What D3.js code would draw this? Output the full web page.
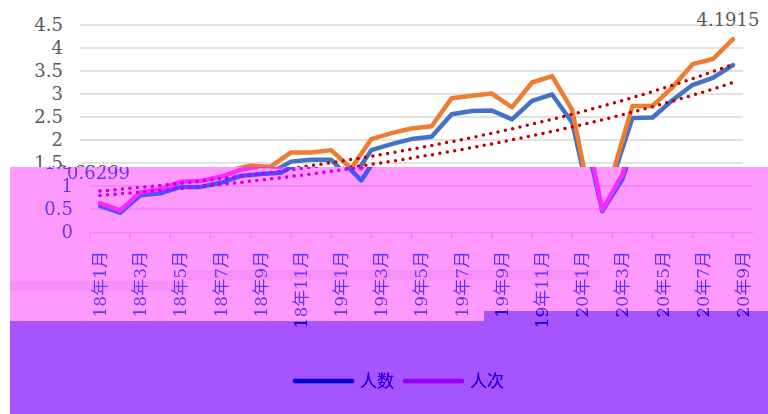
<!DOCTYPE html>
<html>
<head>
  <meta charset="utf-8">
  <title>人数 人次</title>
  <script src="https://d3js.org/d3.v7.min.js"></script>
  <style>
    body { margin: 0; background: #fff; }
    text { font-family: "DejaVu Serif", "Noto Sans CJK SC", serif; fill: #595959; }
  </style>
</head>
<body>
<script>
var categories = ["18年1月","18年2月","18年3月","18年4月","18年5月","18年6月","18年7月","18年8月","18年9月","18年10月","18年11月","18年12月",
                  "19年1月","19年2月","19年3月","19年4月","19年5月","19年6月","19年7月","19年8月","19年9月","19年10月","19年11月","19年12月",
                  "20年1月","20年2月","20年3月","20年4月","20年5月","20年6月","20年7月","20年8月","20年9月"];
var renshu = [0.57,0.42,0.80,0.84,0.98,0.98,1.07,1.22,1.26,1.29,1.53,1.57,1.57,1.12,1.78,1.91,2.02,2.07,2.56,2.63,2.64,2.45,2.85,2.99,2.38,0.45,1.15,2.48,2.49,2.87,3.2,3.35,3.63];
var renci  = [0.6299,0.47,0.86,0.93,1.09,1.11,1.20,1.35,1.44,1.42,1.73,1.73,1.78,1.38,2.02,2.15,2.25,2.30,2.91,2.96,3.01,2.71,3.25,3.39,2.65,0.48,1.25,2.74,2.74,3.15,3.65,3.76,4.1915];
var yTicks = [0,0.5,1,1.5,2,2.5,3,3.5,4,4.5];
var seriesNames = ["人数","人次"];
var seriesColors = ["#4472C4","#ED7D31"];
var trendColor = "#C00000";

var w = 768, h = 414;
var svg = d3.select("body").append("svg").attr("width", w).attr("height", h);
var defs = svg.append("defs");

var x = d3.scaleBand().domain(categories).range([80, 743]);
var y = d3.scaleLinear().domain([0, 4.5]).range([232, 25]);
var cx = function (i) { return x(categories[i]) + x.bandwidth() / 2; };

var chart = defs.append("g").attr("id", "chart");
chart.append("rect").attr("x", -20).attr("y", 0).attr("width", w + 40).attr("height", h).attr("fill", "#fff");

// gridlines
chart.selectAll("line.grid").data(yTicks.slice(1)).enter().append("line")
  .attr("x1", 80).attr("x2", 743)
  .attr("y1", function (d) { return y(d); }).attr("y2", function (d) { return y(d); })
  .attr("stroke", "#D9D9D9").attr("stroke-width", 1.5);

// y labels
chart.selectAll("text.ylab").data(yTicks).enter().append("text")
  .attr("x", 63).attr("y", function (d) { return y(d); }).attr("dy", "0.36em")
  .attr("text-anchor", "end").attr("font-size", 18)
  .text(function (d) { return d; });

// x axis
var xAxis = d3.axisBottom(x)
  .tickValues(categories.filter(function (d, i) { return i % 2 == 0; }))
  .tickSize(0).tickFormat("");
var ax = chart.append("g").attr("transform", "translate(0," + y(0) + ")").call(xAxis);
ax.select(".domain").attr("stroke", "#D9D9D9").attr("stroke-width", 1.5);
chart.selectAll("line.tick").data(d3.range(0, categories.length, 2)).enter().append("line")
  .attr("x1", function (i) { return x(categories[i]); }).attr("x2", function (i) { return x(categories[i]); })
  .attr("y1", y(0)).attr("y2", y(0) + 7)
  .attr("stroke", "#D9D9D9").attr("stroke-width", 1.5);
chart.selectAll("text.xlab").data(d3.range(0, categories.length, 2)).enter().append("text")
  .attr("transform", function (i) { return "translate(" + cx(i) + "," + (y(0) + 19) + ") rotate(-90)"; })
  .attr("text-anchor", "end").attr("dy", "0.35em").attr("font-size", 17)
  .text(function (i) { return categories[i]; });

// series lines
var line = d3.line().x(function (d, i) { return cx(i); }).y(function (d) { return y(d); });
[renshu, renci].forEach(function (s, k) {
  chart.append("path").datum(s).attr("d", line)
    .attr("fill", "none").attr("stroke", seriesColors[k]).attr("stroke-width", 4.5)
    .attr("stroke-linejoin", "round").attr("stroke-linecap", "round");
});

// exponential trend lines
function expFit(vals) {
  var n = vals.length, sx = 0, sy = 0, sxx = 0, sxy = 0;
  vals.forEach(function (v, i) { var t = i + 1, l = Math.log(v); sx += t; sy += l; sxx += t * t; sxy += t * l; });
  var b = (n * sxy - sx * sy) / (n * sxx - sx * sx);
  var a = Math.exp((sy - b * sx) / n);
  return function (t) { return a * Math.exp(b * (t + 1)); };
}
[renshu, renci].forEach(function (s) {
  var f = expFit(s);
  var pts = d3.range(0, s.length - 1 + 0.01, 0.5);
  chart.append("path").datum(pts)
    .attr("d", d3.line().x(function (t) { return cx(0) + t * x.step(); }).y(function (t) { return y(f(t)); }))
    .attr("fill", "none").attr("stroke", trendColor).attr("stroke-width", 3.5)
    .attr("stroke-linecap", "round").attr("stroke-dasharray", "0,7.5");
});

// data labels
chart.append("text").attr("x", cx(0) - 33).attr("y", y(renci[0]) - 24).attr("font-size", 18)
  .text(renci[0]);
chart.append("text").attr("x", cx(renci.length - 1) - 5).attr("y", y(renci[renci.length - 1]) - 13)
  .attr("text-anchor", "middle").attr("font-size", 18)
  .text(renci[renci.length - 1]);

// legend
var leg = chart.selectAll("g.leg").data(seriesNames).enter().append("g")
  .attr("transform", function (d, i) { return "translate(" + (285 + i * 110) + ",381)"; });
leg.append("line").attr("x1", 0).attr("x2", 57)
  .attr("stroke", function (d, i) { return seriesColors[i]; })
  .attr("stroke-width", 4.5).attr("stroke-linecap", "round");
leg.append("text").attr("x", 65).attr("dy", "0.35em").attr("font-size", 17)
  .attr("font-family", "Noto Sans CJK SC").text(function (d) { return d; });

// base picture
svg.append("use").attr("href", "#chart");

// glitch bands
var fPink = defs.append("filter").attr("id", "fPink").attr("filterUnits", "userSpaceOnUse")
  .attr("x", 0).attr("y", 0).attr("width", w).attr("height", h).attr("color-interpolation-filters", "sRGB");
fPink.append("feColorMatrix").attr("type", "matrix")
  .attr("values", "1.05 0 0 0 0  -0.3 0.9 0 0 0  0 0 0 0 1  0 0 0 1 0");
var fPurple = defs.append("filter").attr("id", "fPurple").attr("filterUnits", "userSpaceOnUse")
  .attr("x", 0).attr("y", 0).attr("width", w).attr("height", h).attr("color-interpolation-filters", "sRGB");
fPurple.append("feColorMatrix").attr("type", "matrix")
  .attr("values", "0.89 0 0 0 -0.24  0 0.9 0 0 -0.57  0.25 0 0 0 0.75  0 0 0 1 0");

var cPink = defs.append("clipPath").attr("id", "cPink");
cPink.append("rect").attr("x", 10).attr("y", 167).attr("width", 758).attr("height", 144);
cPink.append("rect").attr("x", 10).attr("y", 311).attr("width", 474).attr("height", 10);
var cPurple = defs.append("clipPath").attr("id", "cPurple");
cPurple.append("rect").attr("x", 10).attr("y", 321).attr("width", 758).attr("height", 93);
cPurple.append("rect").attr("x", 484).attr("y", 311).attr("width", 284).attr("height", 10);

svg.append("g").attr("clip-path", "url(#cPink)")
  .append("g").attr("filter", "url(#fPink)")
  .append("use").attr("href", "#chart").attr("transform", "translate(10,0)");
svg.append("g").attr("clip-path", "url(#cPurple)")
  .append("g").attr("filter", "url(#fPurple)")
  .append("use").attr("href", "#chart").attr("transform", "translate(10,0)");

// faint stripes inside the pink band
svg.append("rect").attr("x", 10).attr("y", 281).attr("width", 177).attr("height", 10)
  .attr("fill", "#c060d0").attr("opacity", 0.15);
svg.append("rect").attr("x", 187).attr("y", 270).attr("width", 413).attr("height", 10)
  .attr("fill", "#c060d0").attr("opacity", 0.15);
</script>
</body>
</html>
